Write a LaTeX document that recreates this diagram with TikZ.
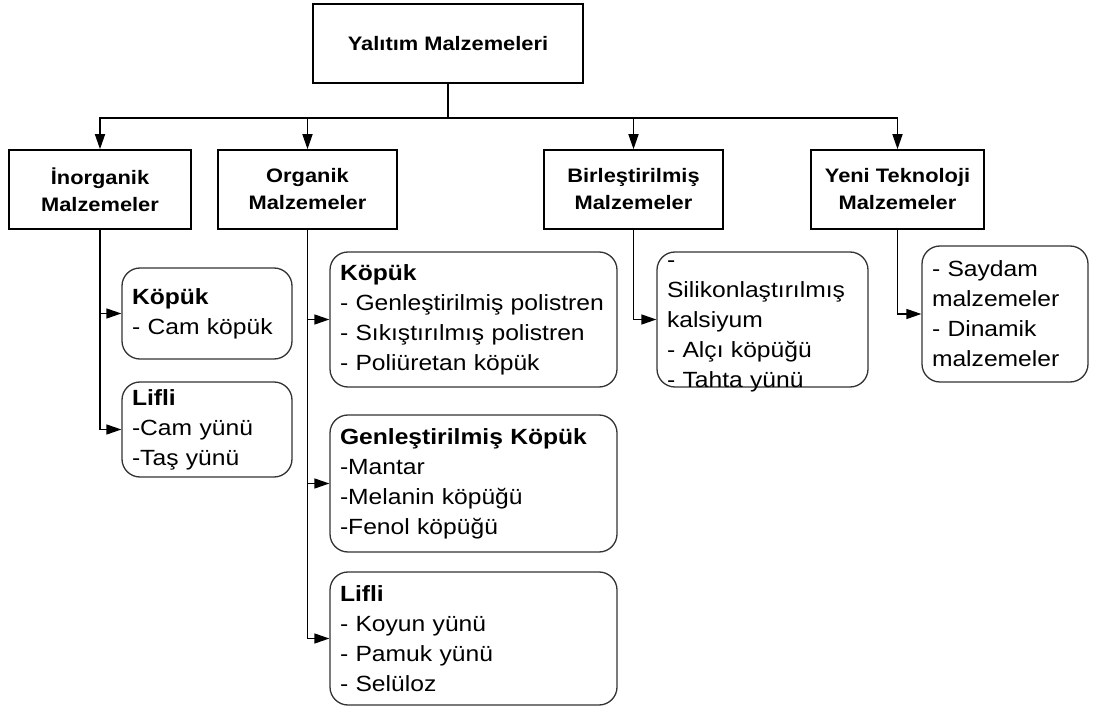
\documentclass[tikz,border=0pt]{standalone}
\usepackage{fontspec}
\setmainfont{Liberation Sans}[FakeStretch=1.12]
\usetikzlibrary{arrows.meta}

\begin{document}
\begin{tikzpicture}[x=1pt,y=-1pt,>={Triangle[length=15pt,width=10pt]},
    grp/.style={draw,line width=1.6pt,minimum height=79pt,align=center,
      font=\bfseries\fontsize{19.5}{27}\selectfont},
    leaf/.style={draw=black!80,line width=1.3pt,rounded corners=18pt,align=left,
      inner xsep=10pt,font=\fontsize{22}{30}\selectfont},
    link/.style={line width=1.5pt,->}]
  \useasboundingbox (0,0) rectangle (1093,708);
  \node[grp,minimum width=270pt] (top) at (448,43.5) {Yalıtım Malzemeleri};
    \foreach \xpos/\grpwidth/\grpname/\grptext in {%
        100/182pt/inorg/{İnorganik\\Malzemeler},
        307.5/179pt/org/{Organik\\Malzemeler},
        633.5/179pt/birl/{Birleştirilmiş\\Malzemeler},
        897.5/173pt/yeni/{Yeni Teknoloji\\Malzemeler}%
    }{%
        \node[grp,minimum width=\grpwidth] (\grpname) at (\xpos,189.5) {\grptext};
        \draw[link] (top.south) -- ++(0,34) -| (\grpname.north);
    }
    \foreach \xpos/\ypos/\boxh/\txtw/\parent/\leaftext[count=\nn] in {%
        207/313.5/91pt/150pt/inorg/{\textbf{Köpük}\\- Cam köpük},
        207/429.5/95pt/150pt/inorg/{\textbf{Lifli}\\-Cam yünü\\-Taş yünü},
        473.5/319.5/135pt/267pt/org/{\textbf{Köpük}\\- Genleştirilmiş polistren\\- Sıkıştırılmış polistren\\- Poliüretan köpük},
        473.5/483.5/137pt/267pt/org/{\textbf{Genleştirilmiş Köpük}\\-Mantar\\-Melanin köpüğü\\-Fenol köpüğü},
        473.5/638.5/133pt/267pt/org/{\textbf{Lifli}\\- Koyun yünü\\- Pamuk yünü\\- Selüloz},
        1005/314/136pt/146pt/yeni/{- Saydam\\malzemeler\\- Dinamik\\malzemeler}%
    }{%
        \node[leaf,minimum height=\boxh,text width=\txtw] (leaf-\nn) at (\xpos,\ypos) {\leaftext};
        \draw[link] (\parent.south) |- (leaf-\nn.west);
    }
  % text runs over the bottom edge here
  \node[leaf,minimum width=211pt,minimum height=135pt] (leaf-birl) at (762.5,319.5) {};
  \node[leaf,draw=none,text width=191pt,yshift=-7pt] (leaf-birl-text) at (leaf-birl) {-\\Silikonlaştırılmış\\kalsiyum\\- Alçı köpüğü\\- Tahta yünü};
  \draw[link] (birl.south) |- (leaf-birl.west);
\end{tikzpicture}
\end{document}
